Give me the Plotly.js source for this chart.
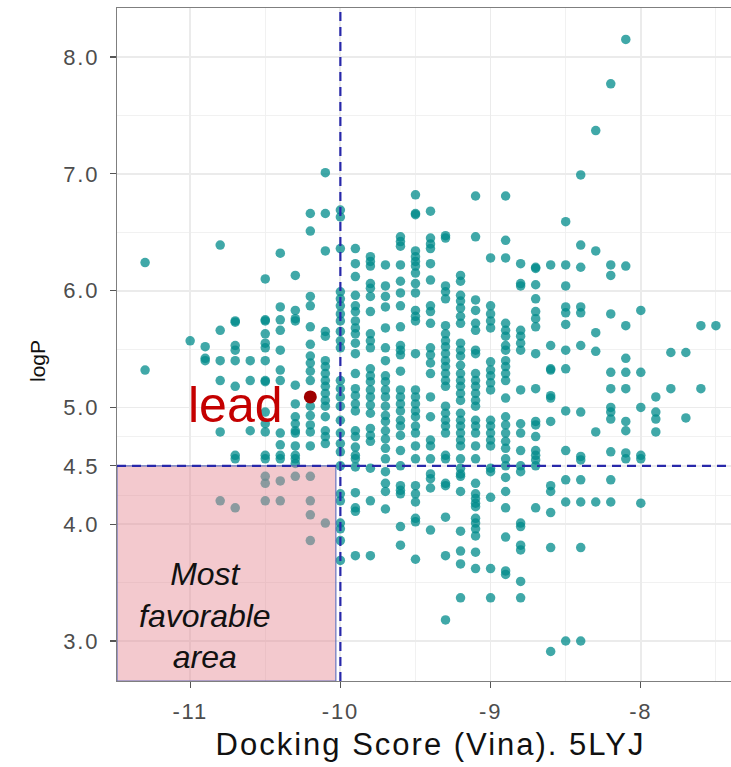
<!DOCTYPE html>
<html>
<head>
<meta charset="utf-8">
<script src="https://cdn.plot.ly/plotly-3.0.1.min.js"></script>
<style>
  html, body { margin: 0; padding: 0; overflow: hidden; background: #fff; }
  #chart { width: 746px; height: 767px; }
  .xtick text, .ytick text { letter-spacing: 1.8px; }
  text.xtitle { letter-spacing: 2px; }
</style>
</head>
<body>
<div id="chart"></div>
<script>
// Docking score columns (Vina) and the logP values read in each column
const s_m113 = [6.24, 5.32];
const s_m110 = [5.57];
const s_m109 = [5.52, 5.42, 5.40];
const s_m108 = [6.39, 5.66, 5.40, 5.23, 4.79, 4.20];
const s_m107 = [5.74, 5.73, 5.53, 5.49, 5.40, 5.18, 4.59, 4.56, 4.14];
const s_m106 = [5.40, 5.23, 4.80];
const s_m105 = [6.10, 5.75, 5.74, 5.63, 5.55, 5.51, 5.40, 5.23, 5.22, 4.96, 4.86, 4.79, 4.59, 4.56, 4.41, 4.35, 4.20];
const s_m104 = [6.32, 5.86, 5.75, 5.66, 5.49, 5.32, 5.23, 4.78, 4.68, 4.59, 4.56, 4.37, 4.20];
const s_m103 = [6.13, 5.83, 5.76, 5.74, 5.19, 5.03, 4.92, 4.86, 4.80, 4.78, 4.67, 4.59, 4.56, 4.52, 4.41];
const s_m102 = [6.66, 6.51, 5.95, 5.87, 5.69, 5.54, 5.44, 5.38, 5.31, 5.23, 5.01, 4.93, 4.85, 4.79, 4.67, 4.41, 4.20, 4.08, 3.86];
const s_m101 = [7.01, 6.66, 6.34, 5.65, 5.61, 5.40, 5.35, 5.29, 5.23, 5.18, 5.12, 5.06, 5.01, 4.92, 4.80, 4.75, 4.69, 4.01];
const s_m100 = [6.69, 6.63, 6.36, 5.99, 5.93, 5.87, 5.80, 5.74, 5.65, 5.57, 5.51, 5.23, 5.16, 5.09, 5.01, 4.89, 4.78, 4.69, 4.62, 4.50, 4.26, 4.20, 4.01, 3.96, 3.86, 3.69];
const s_m99 = [6.36, 6.23, 6.12, 5.96, 5.87, 5.82, 5.74, 5.68, 5.63, 5.55, 5.46, 5.29, 5.16, 5.10, 5.03, 4.97, 4.80, 4.75, 4.66, 4.59, 4.56, 4.49, 4.27, 4.14, 4.11, 3.73];
const s_m98 = [6.29, 6.25, 6.21, 6.06, 6.02, 5.95, 5.82, 5.63, 5.57, 5.51, 5.33, 5.27, 5.22, 5.15, 5.09, 5.02, 4.95, 4.82, 4.76, 4.71, 4.48, 4.20, 3.73];
const s_m97 = [6.22, 6.04, 5.95, 5.86, 5.68, 5.51, 5.40, 5.27, 5.22, 5.15, 5.09, 5.01, 4.93, 4.88, 4.80, 4.73, 4.65, 4.56, 4.45, 4.35, 4.28, 4.13];
const s_m96 = [6.46, 6.42, 6.38, 6.22, 6.08, 5.98, 5.87, 5.69, 5.53, 5.49, 5.45, 5.31, 5.15, 5.09, 5.03, 4.97, 4.89, 4.84, 4.76, 4.63, 4.50, 4.33, 4.29, 4.26, 3.98, 3.82];
const s_m95 = [6.82, 6.66, 6.65, 6.34, 6.29, 6.25, 6.21, 6.15, 6.06, 5.98, 5.83, 5.78, 5.74, 5.46, 5.15, 5.09, 5.03, 4.97, 4.92, 4.84, 4.78, 4.67, 4.56, 4.33, 4.26, 4.19, 4.05, 4.02, 3.70];
const s_m94 = [6.68, 6.45, 6.40, 6.36, 6.23, 6.09, 5.87, 5.82, 5.72, 5.51, 5.45, 5.38, 5.29, 5.09, 4.92, 4.72, 4.67, 4.56, 4.43, 4.39, 4.31, 3.95];
const s_m93 = [6.47, 6.45, 6.04, 5.99, 5.93, 5.70, 5.63, 5.57, 5.52, 5.46, 5.40, 5.35, 5.29, 5.23, 5.18, 5.01, 4.95, 4.89, 4.84, 4.78, 4.59, 4.56, 4.35, 4.33, 4.06, 3.73, 3.18];
const s_m92 = [6.13, 6.08, 5.96, 5.91, 5.85, 5.78, 5.72, 5.55, 5.49, 5.44, 5.36, 5.29, 5.23, 5.18, 5.12, 5.06, 4.95, 4.89, 4.84, 4.78, 4.72, 4.67, 4.56, 4.48, 4.43, 4.41, 4.28, 3.94, 3.77, 3.66, 3.37];
const s_m91 = [6.81, 6.46, 5.92, 5.83, 5.72, 5.66, 5.49, 5.46, 5.29, 5.23, 5.18, 5.12, 5.06, 5.01, 4.89, 4.84, 4.78, 4.67, 4.56, 4.35, 4.26, 4.22, 4.18, 4.15, 4.05, 4.01, 3.96, 3.90, 3.76, 3.62];
const s_m90 = [6.28, 5.87, 5.80, 5.74, 5.68, 5.39, 5.32, 5.27, 5.21, 5.15, 4.89, 4.84, 4.78, 4.72, 4.67, 4.48, 4.45, 4.23, 3.62, 3.37];
const s_m89 = [6.81, 6.43, 6.28, 5.72, 5.66, 5.61, 5.53, 5.49, 5.40, 5.35, 5.29, 5.23, 5.08, 4.92, 4.85, 4.78, 4.71, 4.65, 4.56, 4.50, 4.40, 4.28, 4.14, 3.89, 3.60, 3.57];
const s_m88 = [6.23, 6.06, 6.04, 5.66, 5.61, 5.55, 5.49, 5.15, 4.86, 4.78, 4.63, 4.50, 4.45, 4.01, 3.98, 3.82, 3.78, 3.51, 3.37];
const s_m87 = [6.20, 6.19, 6.05, 5.93, 5.82, 5.76, 5.69, 5.46, 5.16, 4.88, 4.85, 4.75, 4.63, 4.59, 4.55, 4.50, 4.14];
const s_m86 = [6.22, 5.53, 5.33, 5.32, 5.10, 5.08, 4.88, 4.33, 4.28, 4.10, 3.80, 2.91];
const s_m85 = [6.59, 6.22, 6.04, 5.86, 5.81, 5.71, 5.49, 5.33, 4.97, 4.63, 4.38, 4.19, 3.00];
const s_m84 = [6.99, 6.39, 6.20, 5.86, 5.81, 5.53, 4.96, 4.58, 4.55, 4.38, 4.19, 3.80, 3.00];
const s_m83 = [7.37, 6.34, 5.64, 5.48, 4.79, 4.19];
const s_m82 = [7.77, 6.22, 6.13, 5.80, 5.30, 5.16, 5.00, 4.96, 4.90, 4.62, 4.38, 4.19];
const s_m81 = [8.15, 6.21, 5.70, 5.42, 5.30, 5.16, 4.88, 4.80, 4.61, 4.56];
const s_m80 = [5.83, 5.30, 5.00, 4.59, 4.56, 4.18];
const s_m79 = [5.09, 4.96, 4.90, 4.79];
const s_m78 = [5.47, 5.16];
const s_m77 = [5.47, 4.91];
const s_m76 = [5.70, 5.16];
const s_m75 = [5.70];

const scoreColumns = [
  [-11.3, s_m113], [-11.0, s_m110], [-10.9, s_m109], [-10.8, s_m108], [-10.7, s_m107],
  [-10.6, s_m106], [-10.5, s_m105], [-10.4, s_m104], [-10.3, s_m103], [-10.2, s_m102],
  [-10.1, s_m101], [-10.0, s_m100], [-9.9, s_m99], [-9.8, s_m98], [-9.7, s_m97],
  [-9.6, s_m96], [-9.5, s_m95], [-9.4, s_m94], [-9.3, s_m93], [-9.2, s_m92],
  [-9.1, s_m91], [-9.0, s_m90], [-8.9, s_m89], [-8.8, s_m88], [-8.7, s_m87],
  [-8.6, s_m86], [-8.5, s_m85], [-8.4, s_m84], [-8.3, s_m83], [-8.2, s_m82],
  [-8.1, s_m81], [-8.0, s_m80], [-7.9, s_m79], [-7.8, s_m78], [-7.7, s_m77],
  [-7.6, s_m76], [-7.5, s_m75]
];

const leadScore = [-10.2];
const leadLogP = [5.09];

const dockThreshold = -10;
const logPThreshold = 4.5;

const xTickVals = [-11, -10, -9, -8];
const xTickText = ['-11', '-10', '-9', '-8'];
const yTickVals = [3, 4, 4.5, 5, 6, 7, 8];
const yTickText = ['3.0', '4.0', '4.5', '5.0', '6.0', '7.0', '8.0'];
const yMinorVals = [3.5, 4.25, 4.75, 5.5, 6.5, 7.5];

const xs = [], ys = [];
scoreColumns.forEach(([score, vals]) => vals.forEach(v => { xs.push(score); ys.push(v); }));

const xRange = [-11.487, -7.313];
const yRange = [2.6575, 8.4195];

const traces = [
  {
    type: 'scatter', mode: 'markers', x: xs, y: ys,
    marker: { color: 'rgba(0,139,139,0.75)', size: 9.5, line: { width: 0 } },
    hoverinfo: 'x+y', showlegend: false
  },
  {
    type: 'scatter', mode: 'markers', x: leadScore, y: leadLogP,
    marker: { color: '#9E0000', size: 13, line: { width: 0 } },
    showlegend: false
  }
];

const fam = 'Liberation Sans, Arial, sans-serif';
const tickFont = { family: fam, size: 22, color: '#4D4D4D' };

const layout = {
  width: 746, height: 767,
  margin: { l: 117, r: 2, t: 8, b: 86 },
  paper_bgcolor: '#fff', plot_bgcolor: '#fff',
  showlegend: false,
  xaxis: {
    range: xRange, tickmode: 'array', tickvals: xTickVals, ticktext: xTickText,
    ticks: 'outside', ticklen: 6, tickwidth: 1.3, tickcolor: '#555',
    tickfont: tickFont, ticklabelstandoff: 4,
    showgrid: true, gridcolor: '#EBEBEB', gridwidth: 1.8,
    minor: { dtick: 0.5, tick0: 0, showgrid: true, gridcolor: '#F0F0F0', gridwidth: 0.9, ticks: '' },
    zeroline: false, showline: true, mirror: true, linecolor: '#7F7F7F', linewidth: 1.3,
    title: { text: 'Docking Score (Vina). 5LYJ', font: { family: fam, size: 31, color: '#111' }, standoff: 10 },
    automargin: false
  },
  yaxis: {
    range: yRange, tickmode: 'array', tickvals: yTickVals, ticktext: yTickText,
    ticks: 'outside', ticklen: 6, tickwidth: 1.3, tickcolor: '#555',
    tickfont: tickFont, ticklabelstandoff: 6,
    showgrid: true, gridcolor: '#EBEBEB', gridwidth: 1.8,
    minor: { tickmode: 'array', tickvals: yMinorVals, showgrid: true, gridcolor: '#F0F0F0', gridwidth: 0.9, ticks: '' },
    zeroline: false, showline: true, mirror: true, linecolor: '#7F7F7F', linewidth: 1.3,
    automargin: false
  },
  shapes: [
    {
      type: 'rect', layer: 'above', xref: 'x', yref: 'y',
      x0: xRange[0], x1: -10.03, y0: yRange[0], y1: logPThreshold,
      fillcolor: 'rgba(229,138,148,0.46)',
      line: { color: 'rgba(80,100,185,0.85)', width: 1.2 }
    },
    {
      type: 'line', layer: 'above', xref: 'x', yref: 'paper',
      x0: dockThreshold, x1: dockThreshold, y0: 0, y1: 1,
      line: { color: 'rgb(40,40,170)', width: 2.2, dash: '9px,6px' }
    },
    {
      type: 'line', layer: 'above', xref: 'paper', yref: 'y',
      x0: 0, x1: 1, y0: logPThreshold, y1: logPThreshold,
      line: { color: 'rgb(40,40,170)', width: 2.2, dash: '9px,6px' }
    }
  ],
  annotations: [
    {
      // y-axis title
      x: -0.1268, y: 0.4762, xref: 'paper', yref: 'paper', text: 'logP', textangle: -90,
      showarrow: false, xanchor: 'center', yanchor: 'middle',
      font: { family: fam, size: 21, color: '#111' }
    },
    {
      x: -10.7, y: 5.02, xref: 'x', yref: 'y', text: 'lead', showarrow: false,
      font: { family: fam, size: 50, color: '#C40000' }
    },
    {
      x: -10.9, y: 3.22, xref: 'x', yref: 'y', text: 'Most<br>favorable<br>area', showarrow: false,
      font: { family: fam, size: 32, color: '#111', style: 'italic' }
    }
  ]
};

Plotly.newPlot('chart', traces, layout, { displayModeBar: false, staticPlot: true });
</script>
</body>
</html>
